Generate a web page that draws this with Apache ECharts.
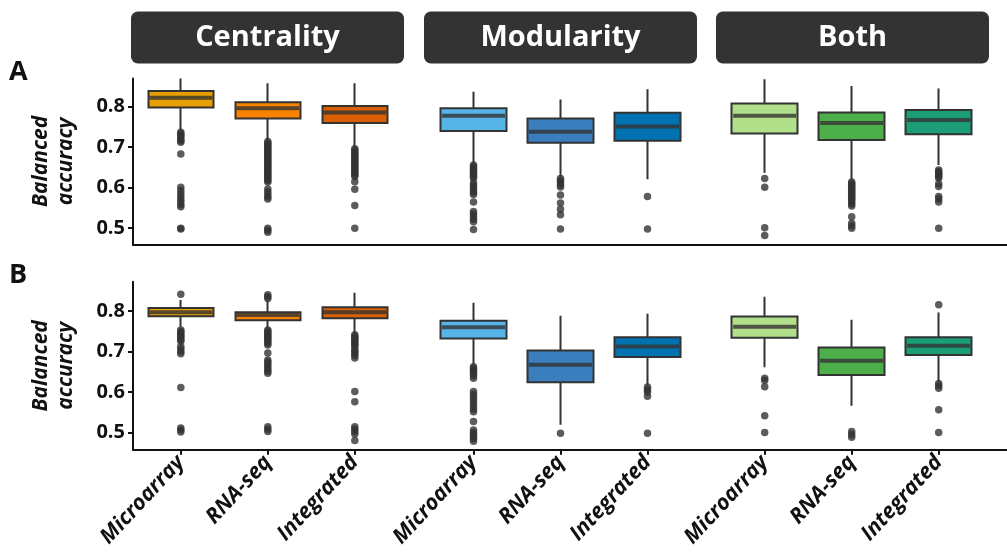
<!DOCTYPE html>
<html>
<head>
<meta charset="utf-8">
<script src="https://cdn.jsdelivr.net/npm/echarts@6/dist/echarts.min.js"></script>
<style>html,body{margin:0;padding:0;background:#fff;}#c{width:1007px;height:555px;}</style>
</head>
<body>
<div id="c"></div>
<script>
// ---------- DATA ----------
const categories = ['Microarray', 'RNA-seq', 'Integrated'];
const groups = ['Centrality', 'Modularity', 'Both'];
const panels = ['A', 'B'];
const yTicks = [0.5, 0.6, 0.7, 0.8];
const yAxisName = 'Balanced\naccuracy';

const colorsCentrality = ['#E8A000', '#FB8200', '#D95F02'];
const colorsModularity = ['#56B4E9', '#3A7EBE', '#0072B2'];
const colorsBoth = ['#B2DF8A', '#4DAF4A', '#1B9E77'];

// box: [lower whisker, Q1, median, Q3, upper whisker]
const aCentralityBox = [[0.742, 0.798, 0.822, 0.839, 0.870], [0.718, 0.771, 0.796, 0.811, 0.858], [0.700, 0.760, 0.786, 0.802, 0.858]];
const aCentralityOut = [
  [0.737, 0.733, 0.729, 0.725, 0.720, 0.716, 0.712, 0.683, 0.601, 0.593, 0.586, 0.578, 0.571, 0.565, 0.558, 0.553, 0.500, 0.498],
  [0.714, 0.710, 0.706, 0.702, 0.698, 0.694, 0.690, 0.686, 0.682, 0.678, 0.674, 0.670, 0.666, 0.662, 0.658, 0.654, 0.650, 0.646, 0.642, 0.638, 0.634, 0.630, 0.626, 0.622, 0.618, 0.614, 0.597, 0.590, 0.583, 0.577, 0.572, 0.500, 0.495, 0.490],
  [0.696, 0.692, 0.688, 0.684, 0.680, 0.676, 0.672, 0.668, 0.664, 0.660, 0.656, 0.652, 0.648, 0.644, 0.640, 0.636, 0.632, 0.628, 0.615, 0.596, 0.556, 0.500]
];
const aModularityBox = [[0.660, 0.740, 0.778, 0.796, 0.837], [0.627, 0.711, 0.738, 0.771, 0.818], [0.621, 0.716, 0.751, 0.785, 0.843]];
const aModularityOut = [
  [0.656, 0.652, 0.648, 0.644, 0.640, 0.636, 0.632, 0.628, 0.624, 0.612, 0.606, 0.600, 0.594, 0.588, 0.583, 0.565, 0.541, 0.535, 0.529, 0.522, 0.516, 0.497],
  [0.623, 0.618, 0.613, 0.607, 0.602, 0.582, 0.562, 0.547, 0.533, 0.498],
  [0.578, 0.498]
];
const aBothBox = [[0.637, 0.734, 0.778, 0.808, 0.868], [0.619, 0.718, 0.760, 0.786, 0.851], [0.656, 0.732, 0.767, 0.792, 0.845]];
const aBothOut = [
  [0.623, 0.601, 0.501, 0.482],
  [0.614, 0.610, 0.606, 0.602, 0.598, 0.594, 0.590, 0.586, 0.582, 0.578, 0.574, 0.570, 0.565, 0.560, 0.555, 0.528, 0.512, 0.506, 0.500],
  [0.644, 0.640, 0.636, 0.632, 0.628, 0.624, 0.610, 0.603, 0.578, 0.572, 0.565, 0.500]
];

const bCentralityBox = [[0.761, 0.787, 0.797, 0.807, 0.827], [0.757, 0.777, 0.790, 0.797, 0.825], [0.745, 0.782, 0.797, 0.809, 0.845]];
const bCentralityOut = [
  [0.841, 0.753, 0.749, 0.745, 0.741, 0.737, 0.733, 0.729, 0.725, 0.712, 0.706, 0.700, 0.694, 0.611, 0.511, 0.506, 0.501],
  [0.840, 0.835, 0.831, 0.753, 0.749, 0.745, 0.741, 0.737, 0.733, 0.729, 0.725, 0.720, 0.716, 0.696, 0.679, 0.674, 0.668, 0.662, 0.656, 0.651, 0.646, 0.514, 0.508, 0.502],
  [0.741, 0.737, 0.733, 0.729, 0.725, 0.720, 0.716, 0.712, 0.704, 0.700, 0.695, 0.690, 0.684, 0.601, 0.576, 0.514, 0.508, 0.502, 0.496, 0.480]
];
const bModularityBox = [[0.667, 0.732, 0.760, 0.776, 0.820], [0.519, 0.624, 0.667, 0.702, 0.788], [0.617, 0.686, 0.712, 0.735, 0.793]];
const bModularityOut = [
  [0.662, 0.658, 0.654, 0.650, 0.645, 0.640, 0.634, 0.601, 0.594, 0.587, 0.580, 0.572, 0.565, 0.558, 0.551, 0.527, 0.506, 0.500, 0.495, 0.490, 0.485, 0.478],
  [0.498],
  [0.612, 0.606, 0.600, 0.589, 0.498]
];
const bBothBox = [[0.661, 0.734, 0.761, 0.786, 0.835], [0.566, 0.642, 0.677, 0.710, 0.778], [0.625, 0.691, 0.714, 0.735, 0.796]];
const bBothOut = [
  [0.634, 0.628, 0.613, 0.541, 0.500],
  [0.502, 0.495, 0.488],
  [0.815, 0.621, 0.615, 0.609, 0.556, 0.500]
];

// ---------- LAYOUT ----------
const FONT = '"Open Sans", Lato, sans-serif';
const panelLayout = [
  {top: 78.4, height: 166, min: 0.46, max: 0.87, labels: false},
  {top: 281.8, height: 168, min: 0.457, max: 0.872, labels: true}
];
const groupLefts = [137.3, 430, 721.2];
const groupWidth = 261;
const axisColor = '#111';

const boxes = [[aCentralityBox, aModularityBox, aBothBox], [bCentralityBox, bModularityBox, bBothBox]];
const outs = [[aCentralityOut, aModularityOut, aBothOut], [bCentralityOut, bModularityOut, bBothOut]];
const groupColors = [colorsCentrality, colorsModularity, colorsBoth];

const grid = [], xAxis = [], yAxis = [], series = [];

panelLayout.forEach((pl, p) => {
  const bgIdx = grid.length;
  grid.push({left: 133, right: 0, top: pl.top, height: pl.height});
  xAxis.push({gridIndex: bgIdx, type: 'value', min: 0, max: 1,
    axisLine: {show: true, onZero: false, lineStyle: {color: axisColor, width: 2}},
    axisTick: {show: false}, axisLabel: {show: false}, splitLine: {show: false}});
  yAxis.push({gridIndex: bgIdx, type: 'value', min: pl.min, max: pl.max,
    name: yAxisName, nameLocation: 'middle', nameGap: 54, nameRotate: 90,
    nameTextStyle: {fontFamily: FONT, fontStyle: 'italic', fontWeight: 'bold', fontSize: 21, lineHeight: 25, color: '#111'},
    axisLine: {show: true, lineStyle: {color: axisColor, width: 2}},
    axisTick: {show: true, length: 5, customValues: yTicks, lineStyle: {color: axisColor, width: 2}},
    axisLabel: {customValues: yTicks, formatter: v => v.toFixed(1), fontFamily: FONT, fontWeight: 'bold', fontSize: 20, color: '#111', margin: 8},
    splitLine: {show: false}});

  groups.forEach((g, gi) => {
    const gIdx = grid.length;
    grid.push({left: groupLefts[gi], width: groupWidth, top: pl.top, height: pl.height});
    xAxis.push({gridIndex: gIdx, type: 'category', data: categories, boundaryGap: true,
      axisLine: {show: false},
      axisTick: {show: pl.labels, alignWithLabel: true, length: 5, lineStyle: {color: axisColor, width: 2}},
      axisLabel: {show: pl.labels, rotate: 47, interval: 0, margin: 9, fontFamily: FONT, fontStyle: 'italic', fontWeight: 'bold', fontSize: 21.5, color: '#111'},
      splitLine: {show: false}});
    yAxis.push({gridIndex: gIdx, type: 'value', min: pl.min, max: pl.max, show: false, splitLine: {show: false}});

    const bx = boxes[p][gi];
    const cols = groupColors[gi];
    series.push({
      type: 'candlestick', xAxisIndex: gIdx, yAxisIndex: gIdx,
      barWidth: 66, barMaxWidth: 100, z: 3,
      data: bx.map((b, i) => ({
        value: [b[1], b[3], b[0], b[4]],
        itemStyle: {color: cols[i], color0: cols[i], borderColor: '#333', borderColor0: '#333', borderWidth: 2}
      }))
    });
    series.push({
      type: 'scatter', xAxisIndex: gIdx, yAxisIndex: gIdx, z: 4,
      symbol: 'rect', symbolSize: [63, 4],
      itemStyle: {color: '#333'},
      data: bx.map((b, i) => [i, b[2]])
    });
    const od = [];
    outs[p][gi].forEach((arr, i) => arr.forEach(v => od.push([i, v])));
    series.push({
      type: 'scatter', xAxisIndex: gIdx, yAxisIndex: gIdx, z: 5,
      symbol: 'circle', symbolSize: 7.5,
      itemStyle: {color: '#333'},
      data: od
    });
  });
});

const stripLefts = [131, 424, 716];
const graphic = [];
groups.forEach((g, gi) => {
  graphic.push({type: 'rect', left: stripLefts[gi], top: 11.5, shape: {width: 273, height: 52, r: 7}, style: {fill: '#333333'}});
  graphic.push({type: 'text', x: stripLefts[gi] + 136.5, y: 38, style: {text: g, fill: '#fff', font: 'bold 29px ' + FONT, textAlign: 'center', textVerticalAlign: 'middle'}});
});
graphic.push({type: 'text', x: 9, y: 72, style: {text: panels[0], fill: '#111', font: 'bold 27px ' + FONT, textVerticalAlign: 'middle'}});
graphic.push({type: 'text', x: 9, y: 275, style: {text: panels[1], fill: '#111', font: 'bold 27px ' + FONT, textVerticalAlign: 'middle'}});

const chart = echarts.init(document.getElementById('c'), null, {renderer: 'canvas'});
chart.setOption({animation: false, backgroundColor: '#fff', grid, xAxis, yAxis, series, graphic});
</script>
</body>
</html>
